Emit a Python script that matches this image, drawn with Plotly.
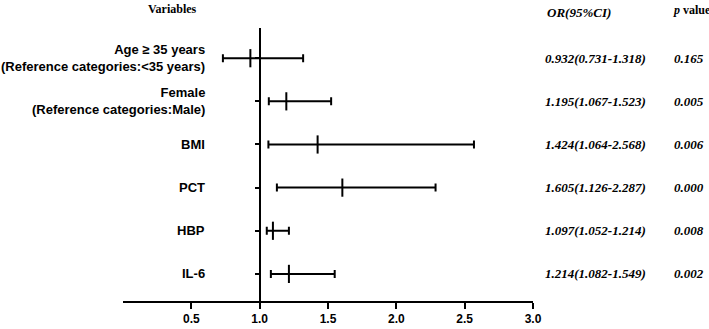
import plotly.graph_objects as go

variables = ["Age \u2265 35 years<br>(Reference categories:<35 years)",
             "Female<br>(Reference categories:Male)",
             "BMI", "PCT", "HBP", "IL-6"]
odds_ratio = [0.932, 1.195, 1.424, 1.605, 1.097, 1.214]
ci_low = [0.731, 1.067, 1.064, 1.126, 1.052, 1.082]
ci_high = [1.318, 1.523, 2.568, 2.287, 1.214, 1.549]
p_values = ["0.165", "0.005", "0.006", "0.000", "0.008", "0.002"]
x_ticks = [0.5, 1.0, 1.5, 2.0, 2.5, 3.0]

n = len(variables)
ypos = [n - i for i in range(n)]

fig = go.Figure()
fig.add_trace(go.Scatter(
    x=odds_ratio, y=ypos, mode="markers",
    marker=dict(symbol="line-ns", size=13, line=dict(width=2, color="black"), color="black"),
    error_x=dict(type="data", symmetric=False,
                 array=[h - o for h, o in zip(ci_high, odds_ratio)],
                 arrayminus=[o - l for o, l in zip(odds_ratio, ci_low)],
                 color="black", thickness=2, width=4),
    showlegend=False, hoverinfo="skip"))

lab_font = dict(family="Liberation Sans, Arial", size=13, color="black")
ser_font = dict(family="Liberation Serif, Times New Roman", size=13, color="black")
hdr_font = dict(family="Liberation Serif, Times New Roman", size=12, color="black")
annotations = []
for i, v in enumerate(variables):
    annotations.append(dict(x=0.205, xref="paper", y=ypos[i], yref="y", text="<b>" + v.replace("<br>", "</b><br><b>") + "</b>",
                            showarrow=False, xanchor="right", align="right", font=lab_font))
    annotations.append(dict(x=1.0244, xref="paper", y=ypos[i], yref="y",
                            text="<b><i>%.3f(%.3f-%.3f)</i></b>" % (odds_ratio[i], ci_low[i], ci_high[i]),
                            showarrow=False, xanchor="left", font=ser_font))
    annotations.append(dict(x=1.339, xref="paper", y=ypos[i], yref="y",
                            text="<b><i>%s</i></b>" % p_values[i],
                            showarrow=False, xanchor="left", font=ser_font))
annotations.append(dict(x=0.12, xref="paper", xanchor="center", y=9, yref="paper",
                        text="<b>Variables</b>", showarrow=False, font=hdr_font))
annotations.append(dict(x=1.029, xref="paper", xanchor="left", y=13, yref="paper",
                        text="<b><i>OR(95%CI)</i></b>", showarrow=False, font=ser_font))
annotations.append(dict(x=1.336, xref="paper", xanchor="left", y=10, yref="paper",
                        text="<b><i>p</i> value</b>", showarrow=False, font=hdr_font))

H_TOP, H_BOT = 28, 28
plot_h = 329 - H_TOP - H_BOT
for a in annotations:
    if a["yref"] == "paper":
        a["y"] = (329 - H_BOT - a["y"]) / plot_h
        a["yanchor"] = "middle"

fig.update_layout(
    width=709, height=329, autosize=False,
    margin=dict(l=123, r=176, t=H_TOP, b=H_BOT, autoexpand=False),
    paper_bgcolor="white", plot_bgcolor="white",
    annotations=annotations,
    xaxis=dict(range=[0, 3], tickvals=x_ticks, ticktext=["<b>%.1f</b>" % t for t in x_ticks],
               showgrid=False, zeroline=False, showline=True, linecolor="black", linewidth=2,
               ticks="outside", ticklen=6, tickwidth=2, tickcolor="black",
               tickfont=dict(family="Liberation Sans, Arial", size=12, color="black"),
               automargin=False, fixedrange=True),
    yaxis=dict(range=[0.372, 6.70], tickvals=ypos, showticklabels=False,
               showgrid=False, zeroline=False, showline=True, linecolor="black", linewidth=2,
               ticks="outside", ticklen=4, tickwidth=1.5, tickcolor="black",
               anchor="free", position=1/3, automargin=False, fixedrange=True),
)
fig.write_html("out.html", config={"displayModeBar": False},
               post_script="document.body.style.margin='0';document.body.style.overflow='hidden';")
